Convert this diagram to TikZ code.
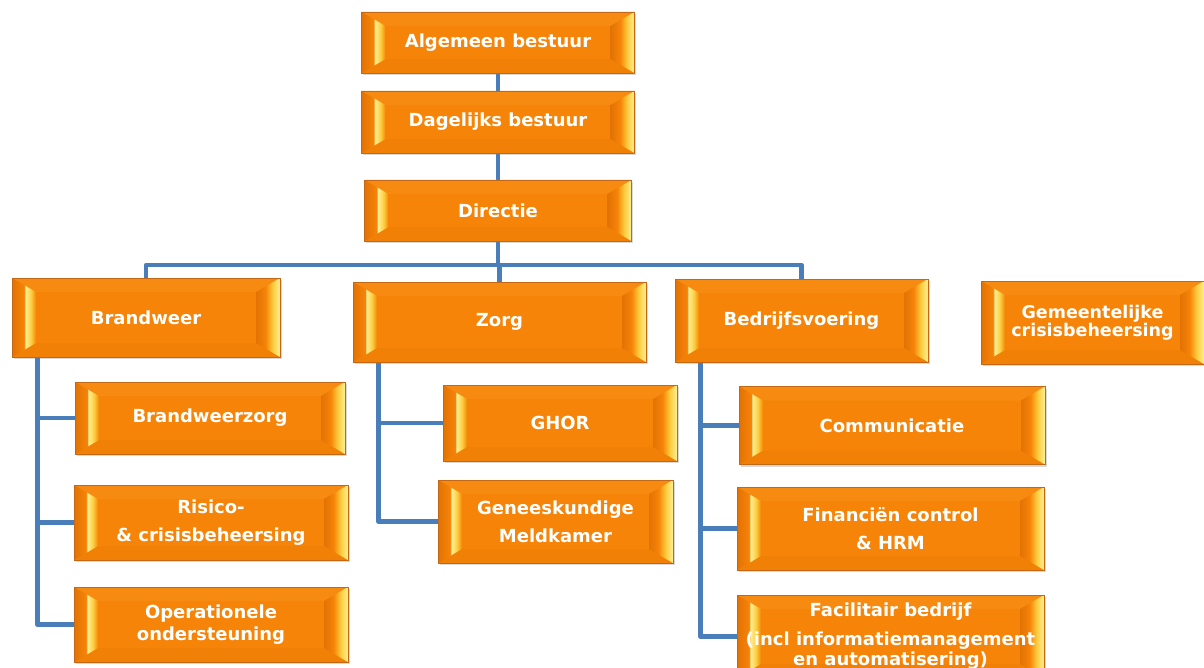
\documentclass[tikz,border=0pt]{standalone}
\usepackage{fontspec}
\setmainfont{DejaVu Sans}
\usepackage{tikz}
\usetikzlibrary{calc,positioning,shadows,backgrounds}
\definecolor{orgmain}{RGB}{246,132,8}
\definecolor{orgedge}{RGB}{196,104,22}
\definecolor{orgdark}{RGB}{226,114,4}
\definecolor{orgtop}{RGB}{247,139,18}
\definecolor{orgbot}{RGB}{241,128,6}
\definecolor{bevlight}{RGB}{255,240,150}
\definecolor{bevyel}{RGB}{253,204,62}
\definecolor{linkblue}{RGB}{74,126,187}
\pgfdeclarehorizontalshading{leftbevel}{100bp}{color(0bp)=(orgdark); color(25bp)=(orgdark); color(50bp)=(orgmain); color(53bp)=(bevlight); color(65bp)=(bevyel); color(75bp)=(orgmain); color(100bp)=(orgmain)}
\pgfdeclarehorizontalshading{rightbevel}{100bp}{color(0bp)=(orgdark); color(25bp)=(orgdark); color(45bp)=(orgmain); color(60bp)=(bevyel); color(75bp)=(bevlight); color(100bp)=(bevlight)}
\newcommand\unitfont{\fontsize{18}{28}\selectfont\bfseries}

\begin{document}
\begin{tikzpicture}[x=1pt,y=-1pt,
unit/.style 2 args={draw=orgedge,line width=.7pt,fill=orgmain,text=white,font=\unitfont,
  align=center,inner sep=0pt,minimum width=#1pt,minimum height=#2pt,
  drop shadow={shadow xshift=1.5pt,shadow yshift=-2pt,opacity=.3},
  path picture={
   \fill[orgtop] (path picture bounding box.north west) -- (path picture bounding box.north east)
     -- ([xshift=-24pt,yshift=-14pt]path picture bounding box.north east)
     -- ([xshift=24pt,yshift=-14pt]path picture bounding box.north west) -- cycle;
   \fill[orgbot] (path picture bounding box.south west) -- (path picture bounding box.south east)
     -- ([xshift=-24pt,yshift=14pt]path picture bounding box.south east)
     -- ([xshift=24pt,yshift=14pt]path picture bounding box.south west) -- cycle;
   \shade[shading=leftbevel] (path picture bounding box.north west)
     -- ([xshift=24pt,yshift=-14pt]path picture bounding box.north west)
     -- ([xshift=24pt,yshift=14pt]path picture bounding box.south west)
     -- (path picture bounding box.south west) -- cycle;
   \shade[shading=rightbevel] (path picture bounding box.north east)
     -- ([xshift=-24pt,yshift=-14pt]path picture bounding box.north east)
     -- ([xshift=-24pt,yshift=14pt]path picture bounding box.south east)
     -- (path picture bounding box.south east) -- cycle;}},
link/.style={draw=linkblue,line width=4.5pt,line join=round}]
 \useasboundingbox (0,0) rectangle (1204,668);
 % top of the tree
 \node[unit={273}{61}] (ab) at (498,42.5) {Algemeen bestuur};
 \node[unit={273}{62}] (db) at (498,122) {Dagelijks bestuur};
 \node[unit={267}{61}] (dir) at (498,210.5) {Directie};
 % sectors
 \node[unit={268}{79}] (bw) at (146,317.5) {Brandweer};
 \node[unit={293}{80}] (zorg) at (499.5,322) {Zorg};
 \node[unit={253}{83}] (bv) at (801.5,320.5) {Bedrijfsvoering};
 \node[unit={223}{83},font=\fontsize{17.5}{18}\selectfont\bfseries] (gc) at (1092.5,322.5) {Gemeentelijke\\crisisbeheersing};
 % departments
 \node[unit={270}{72}] (bw1) at (210,418) {Brandweerzorg};
 \node[unit={274}{75}] (bw2) at (211,522.5) {Risico-\\\& crisisbeheersing};
 \node[unit={274}{75},font=\fontsize{18}{22}\selectfont\bfseries] (bw3) at (211,624.5) {Operationele\\ondersteuning};
 \node[unit={234}{76}] (zorg1) at (560,423) {GHOR};
 \node[unit={235}{83}] (zorg2) at (555.5,521.5) {Geneeskundige\\Meldkamer};
 \node[unit={306}{78}] (bv1) at (892,425.5) {Communicatie};
 \node[unit={307}{83}] (bv2) at (890.5,528.5) {Financiën control\\\& HRM};
 \node[unit={307}{83},font=\fontsize{18}{20}\selectfont\bfseries] (bv3) at (890.5,636.5) {Facilitair bedrijf\\[9pt](incl informatiemanagement\\en automatisering)};
 \begin{scope}[on background layer]
 \draw[link] (ab.south) -- (db.north);
 \draw[link] (db.south) -- (dir.north);
 \coordinate (bus) at (498,265);
 \foreach \X in {bw,zorg,bv}
  \draw[link] (dir.south) |- (bus) -| (\X.north);
 \foreach \P/\N in {bw/3,zorg/2,bv/3}
 {\coordinate (\P-line) at ([xshift=26pt]\P.south west);
  \foreach \X in {1,...,\N}
   \draw[link] (\P-line) |- (\P\X.west);}
 \end{scope}
\end{tikzpicture}
\end{document}
